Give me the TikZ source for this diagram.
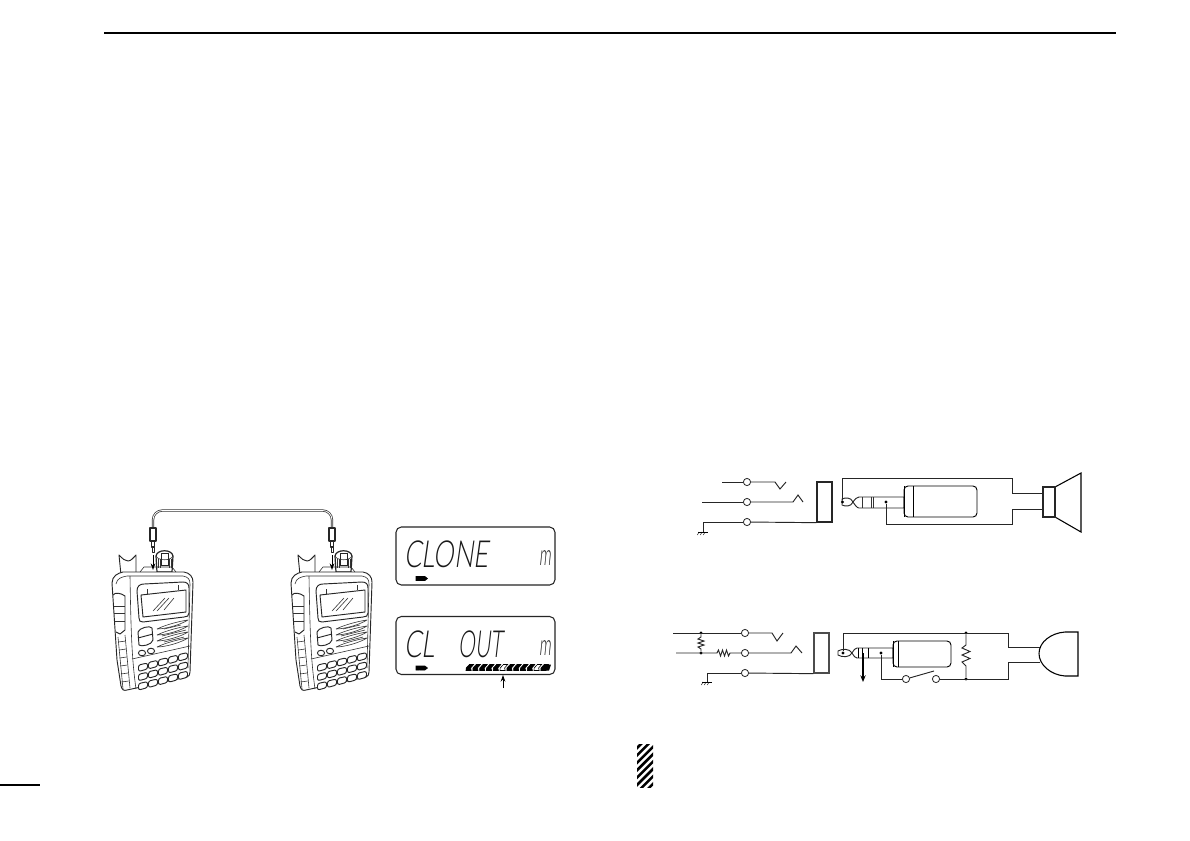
\documentclass[tikz,border=0pt]{standalone}
\usepackage{fontspec}
\usetikzlibrary{arrows.meta,calc}
\newfontfamily\lcdfont{Lato Light}[FakeSlant=0.14,FakeStretch=0.69]
\tikzset{
 line/.style={line width=.7pt,line join=round,color=black!85},
 thinl/.style={line width=.45pt,line join=round,color=black!80},
 wire/.style={line width=.7pt,color=black!85},
 term/.style={circle,draw=black!85,line width=.6pt,fill=white,minimum size=5.4pt,inner sep=0pt},
 jackblock/.style={draw=black!85,line width=1pt,fill=white,inner sep=0pt},
 dot/.style={circle,fill=black,minimum size=2.4pt,inner sep=0pt},
 lcdtext/.style={inner sep=0pt,font=\lcdfont\fontsize{28}{28}\selectfont,anchor=west,color=black!90},
 lcdm/.style={inner sep=0pt,font=\lcdfont\fontsize{22}{22}\selectfont,color=black!90},
 screen/.style={draw=black!85,line width=.8pt,rounded corners=4pt,inner sep=0pt},
}
\newcommand{\ground}[1]{%
 \draw[line width=.6pt] ($(#1)+(-5,0)$) -- ($(#1)+(5,0)$);
 \foreach \i in {-4,-1,2}{\draw[line width=.35pt] ($(#1)+(\i,0)$) -- ++(-1.6,3);}}
\newcommand{\handheld}{%
 % antenna
 \draw[line,fill=white] (121,575) -- (119,555) .. controls (123,559) and (125,561) .. (128,561) .. controls (131,561) and (133,558) .. (136,555) -- (136,575) -- cycle;
 % knob
 \draw[line width=.9pt,color=black!85,fill=white] (157,572) -- (156,556) .. controls (157,549) and (172,549) .. (173,556) -- (172,572) -- cycle;
 \draw[thinl] (156,556) .. controls (158,561) and (171,561) .. (173,556);
 \foreach \k in {158,160,169,171}{\draw[thinl] (\k,559) -- (\k,568);}
 \draw[line width=.6pt,black!85] (161,553) rectangle (168,565);
 % body
 \draw[line,fill=white] (112,583) .. controls (112,576) and (118,573) .. (123,572) -- (184,572) .. controls (190,573) and (193,577) .. (193,582) -- (190,672) .. controls (190,675) and (189,676) .. (187,677) -- (127,690) .. controls (124,691) and (122,690) .. (121,686) -- (117,660) -- cycle;
 \draw[thinl] (116,584) .. controls (117,578) and (122,577) .. (127,576) -- (183,576) .. controls (188,577) and (190,579) .. (190,584) -- (188,668);
 \draw[thinl] (140,572) -- (144,567) -- (172,567) -- (176,572);
 \draw[thinl] (130,576) .. controls (131,636) and (132,660) .. (136,689);
 % display
 \draw[line] (137,591) .. controls (137,586) and (140,584) .. (144,584) -- (183,582) .. controls (187,582) and (189,584) .. (189,588) -- (189,613) .. controls (189,616) and (187,617) .. (184,617) -- (143,622) .. controls (140,622) and (139,621) .. (139,618) -- cycle;
 \draw[line] (141,595) -- (186,590) -- (186,612) -- (143,617) -- cycle;
 \draw[thinl] (147,589) -- (147,594) (178,585) -- (178,590);
 \draw[thinl] (153,611) -- (165,598) (157,611) -- (169,598) (164,610) -- (174,598);
 % side button
 \draw[line] (113,595) .. controls (115,592) and (121,593) .. (125,596) -- (125,630) -- (120,634) -- (116,632);
 \draw[thinl] (114,606) -- (125,606) (114,613) -- (125,613) (115,621) -- (125,621);
 % side rungs
 \draw[thinl] (118,637) -- (123,689) (125,635) -- (130,688);
 \foreach \r in {0,1,...,5}{\draw[thinl] (118.5+.6*\r,642+8*\r) -- (125.6+.6*\r,641+8*\r);}
 % d-pad
 \draw[line] (138,632) .. controls (139,628) and (150,625) .. (152,628) -- (153,640) .. controls (152,645) and (141,647) .. (139,645) -- cycle;
 \draw[line] (138,638) -- (153,634);
 % small keys
 \foreach \s in {0,1,2,3}{
  \draw[thinl] (157,629+6*\s) .. controls (165,625+6*\s) and (180,621+6*\s) .. (188,620+6*\s) .. controls (180,625+6*\s) and (165,629+6*\s) .. (157,629+6*\s);
 }
 \draw[thinl] (164,629) -- (181,625) (162,636) -- (186,630) (164,642) -- (184,637);
 % ovals
 \draw[line] (142,653) circle[x radius=3.6,y radius=2.8];
 \draw[line] (151,651) circle[x radius=3.6,y radius=2.8];
 % keypad
 \foreach \c in {0,1,2,3,4}{\foreach \r in {0,1,2}{
  \draw[line,fill=white,rounded corners=1.6pt] (138.5+10*\c,665-2.6*\c+9.3*\r) -- (147.5+10*\c,663-2.6*\c+9.3*\r) -- (147.5+10*\c,669-2.6*\c+9.3*\r) -- (138.5+10*\c,671.5-2.6*\c+9.3*\r) -- cycle;
 }}
 \draw[thinl] (132,659) -- (190,646);
}
\begin{document}
\begin{tikzpicture}[x=.75pt,y=-.75pt]
\useasboundingbox (0,0) rectangle (1190,840);
\fill[white] (0,0) rectangle (1190,840);
% page rules
\coordinate (ruleL) at (104,33); \coordinate (ruleR) at (1116,33);
\draw[line width=1.2pt] (ruleL) -- (ruleR);
\coordinate (footL) at (0,785); \coordinate (footR) at (40,785);
\draw[line width=1pt] (footL) -- (footR);
% radios
\handheld
\begin{scope}[shift={(179,0)}]\handheld\end{scope}
% cable
\coordinate (plugA) at (153,528); \coordinate (plugB) at (332,528);
\draw[line width=1.7pt,black!80,rounded corners=7pt] (plugA) |- (242,510.5) -| (plugB);
\draw[line width=.6pt,white,rounded corners=7pt] (plugA) |- (242,510.5) -| (plugB);
\foreach \p in {plugA,plugB}{
 \draw[line,line width=.9pt,fill=white] ($(\p)+(-3,0)$) rectangle ($(\p)+(3,13)$);
 \draw[line,line width=.9pt,fill=white] ($(\p)+(-1.5,13)$) rectangle ($(\p)+(1.5,19)$);
 \draw[line,fill=white] ($(\p)+(-1,19)$) rectangle ($(\p)+(1,24)$);
 \draw[line width=.7pt,-{Stealth[length=5pt,width=3.5pt]}] ($(\p)+(0,27)$) -- ++(0,15);
}
% LCD 1
\node[screen,minimum width=119.25pt,minimum height=43.5pt] (lcdA) at (475.5,556) {};
\node[lcdtext] (cloneT) at (404,554.5) {CLONE};
\node[lcdm] (mA) at (545,558) {\scalebox{.72}[1]{m}};
\draw[fill=black] (416,576.5) rectangle (419,580.5) (420,576.5) -- (425,576.5) -- (427.5,578.5) -- (425,580.5) -- (420,580.5) -- cycle;
% LCD 2
\node[screen,minimum width=119.25pt,minimum height=43.5pt] (lcdB) at (475.5,645.5) {};
\node[lcdtext] (cloneU) at (404,644.5) {CL\hspace{18pt}\scalebox{.82}[1]{OUT}};
\node[lcdm] (mB) at (545,648) {\scalebox{.72}[1]{m}};
\draw[fill=black] (416,666) rectangle (419,670) (420,666) -- (425,666) -- (427.5,668) -- (425,670) -- (420,670) -- cycle;
% progress bar
\foreach \i in {0,1,...,11}{
 \pgfmathsetmacro{\xa}{466+\i*6.8}
 \ifnum\i=5 \def\fc{white}\else\ifnum\i=10 \def\fc{white}\else\def\fc{black}\fi\fi
 \draw[line width=.45pt,fill=\fc] (\xa,670.5) -- (\xa+.2,668) -- (\xa+3.4,664.5) -- (\xa+7.6,664.5) -- (\xa+4.6,668) -- (\xa+5.2,670.5) -- cycle;
}
\fill (544,664.5) -- (551,664.5) -- (549,670.5) -- (542.5,670.5) -- cycle;
\coordinate (pa) at (503,688); \coordinate (pb) at (503,675);
\draw[line width=.7pt,-{Stealth[length=5pt,width=3.5pt]}] (pa) -- (pb);
% ---- speaker circuit
\node[term] (a1) at (747,482) {};
\node[term] (a2) at (747,502) {};
\node[term] (a3) at (747,522) {};
\coordinate (a1l) at (722,482); \coordinate (a2l) at (702,502); \coordinate (a3g) at (703,532);
\draw[wire] (a1l) -- (a1);
\draw[wire] (a1) -- (775,482) -- (780,489) -- (786,482);
\draw[wire] (a2l) -- (a2);
\draw[wire] (a2) -- (793,502) -- (798,495) -- (803,502);
\ground{a3g}
\node[jackblock,minimum width=11.25pt,minimum height=30pt] (ja) at (824.5,502) {};
\draw[wire] (a3g) |- (a3);
\draw[wire] (a3) -- (ja.south west);
% plug A
\draw[line,fill=white] (853,502) .. controls (851,497) and (845,497.5) .. (842,499) -- (842,505) .. controls (845,506.5) and (851,507) .. (853,502) -- cycle;
\draw[line,fill=white] (853,502) .. controls (855,499) and (857,497) .. (859,497) -- (904,497) -- (904,508) -- (859,508) .. controls (857,508) and (855,505) .. (853,502);
\draw[thinl] (862,497) -- (862,508) (871,497) -- (871,508) (873,497) -- (873,508);
\draw[line width=.7pt,fill=white,rounded corners=3pt] (904,486) -- (977,486) -- (977,517) -- (904,517) -- cycle;
\draw[line width=.7pt] (904,486) -- (904,517);
\draw[line width=.5pt] (913,486) -- (913,517);
\node[dot] (ta) at (842.5,502) {};
\node[dot] (ra) at (886,502) {};
% speaker
\draw[line width=.8pt,fill=white] (1055,487) -- (1081,473) -- (1081,532) -- (1055,517) -- cycle;
\node[jackblock,minimum width=9pt,minimum height=22.5pt] (spk) at (1049,502) {};
\coordinate (spkT) at (1043,493); \coordinate (spkB) at (1043,509);
\draw[wire] (ta) |- (1012,478.5) |- (spkT);
\draw[wire] (ra) |- (1012,524) |- (spkB);
% ---- microphone circuit
\node[term] (b1) at (745,633) {};
\node[term] (b2) at (745,653) {};
\node[term] (b3) at (745,673) {};
\coordinate (b1l) at (673,633); \coordinate (b2l) at (676,653); \coordinate (b3g) at (707,682);
\node[dot] (rt) at (701,633) {}; \node[dot] (rb) at (701,653) {};
\draw[wire] (b1l) -- (b1);
\draw[wire] (b1) -- (772,633) -- (777,641) -- (783,633);
\draw[wire] (b2l) -- (717,653) -- (718.5,650) -- (720.5,656) -- (722.5,650) -- (724.5,656) -- (726.5,650) -- (728.5,656) -- (730,653) -- (b2);
\draw[wire] (b2) -- (791,653) -- (796,646) -- (802,653);
\draw[wire] (rt) -- (701,637) -- (698,639) -- (704,641) -- (698,643) -- (704,645) -- (698,647) -- (701,649) -- (rb);
\ground{b3g}
\node[jackblock,minimum width=11.25pt,minimum height=30pt,draw=black!70] (jb) at (821.5,653) {};
\draw[wire] (b3g) |- (b3);
\draw[wire] (b3) -- (jb.south west);
% plug B
\draw[line,fill=white] (852,653) .. controls (850,648.5) and (842,648.5) .. (838,651) -- (838,655) .. controls (842,657.5) and (850,657.5) .. (852,653) -- cycle;
\draw[line,fill=white] (852,653) .. controls (854,650) and (855,648) .. (857,648) -- (893,648) -- (893,658) -- (857,658) .. controls (855,658) and (854,656) .. (852,653);
\draw[line width=.7pt] (858,648) -- (858,658) (862,648) -- (862,658) (868,648) -- (868,658);
\draw[line width=.7pt,fill=white,rounded corners=3pt] (893,641) -- (951,641) -- (951,667) -- (893,667) -- cycle;
\draw[line width=.7pt] (893,641) -- (893,667);
\draw[line width=.5pt] (898,641) -- (898,667);
\node[dot] (tb) at (843,653) {};
\node[dot] (rbb) at (881,653) {};
\coordinate (rs) at (863,653); \coordinate (re) at (863,682);
\draw[line width=1.1pt,-{Stealth[length=5pt,width=4pt]}] (rs) -- (re);
% mic
\coordinate (micT) at (1040,647); \coordinate (micB) at (1040,662);
\draw[line width=.8pt,fill=white] (1078,632) -- (1065,632) .. controls (1051,633) and (1039,642) .. (1039,653.5) .. controls (1039,665) and (1051,675) .. (1065,676) -- (1078,676) -- cycle;
\node[term] (s1) at (906,679) {};
\node[term] (s2) at (936,679) {};
\node[dot] (rt2) at (966,633) {}; \node[dot] (rb2) at (966,679) {};
\draw[wire] (tb) |- (1008,633) |- (micT);
\draw[wire] (rbb) |- (s1);
\draw[wire] (s1) -- (934,671);
\draw[wire] (s2) -- (1008,679) |- (micB);
\draw[wire] (rt2) -- (966,645) -- (962,648) -- (970,651.5) -- (962,655) -- (970,658.5) -- (962,662) -- (966,666) -- (rb2);
% hatched caution mark
\begin{scope}
 \clip (637,744) rectangle (653,787);
 \foreach \h in {0,1,...,8}{
  \draw[line width=1.9pt] (633,752+7.4*\h) -- (657,728+7.4*\h);
 }
\end{scope}
\end{tikzpicture}
\end{document}
